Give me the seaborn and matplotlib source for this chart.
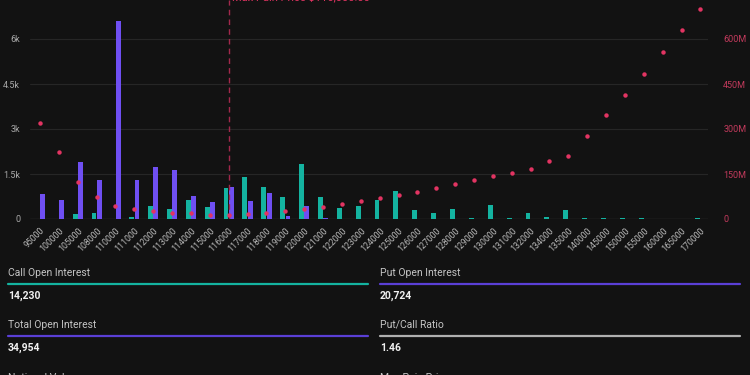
import matplotlib
matplotlib.use("Agg")
import matplotlib.pyplot as plt
from matplotlib.lines import Line2D
import seaborn as sns
import pandas as pd
import numpy as np

# strikes on the x axis
strikes = ["95000", "100000", "105000", "108000", "110000", "111000", "112000",
           "113000", "114000", "115000", "116000", "117000", "118000", "119000",
           "120000", "121000", "122000", "123000", "124000", "125000", "126000",
           "127000", "128000", "129000", "130000", "131000", "132000", "134000",
           "135000", "140000", "145000", "150000", "155000", "160000", "165000",
           "170000"]

# open interest per strike (contracts)
call_oi = [0, 0, 177, 210, 0, 77, 443, 343, 633, 387, 1033, 1387, 1077, 720,
           1833, 720, 367, 443, 633, 933, 287, 210, 320, 40, 467, 30, 187, 77,
           300, 50, 50, 40, 40, 0, 0, 30]
put_oi = [843, 620, 1900, 1287, 6587, 1287, 1720, 1643, 777, 567, 1077, 587,
          853, 100, 433, 43, 0, 0, 0, 0, 0, 0, 0, 0, 0, 0, 0, 0, 0, 0, 0, 0, 0,
          0, 0, 0]

# notional value per strike (millions USD)
notional_m = [320, 222, 125, 74, 44, 34, 28, 21, 19, 15, 15, 17, 21, 28, 32, 40,
              50, 59, 70, 80, 91, 103, 117, 129, 142, 154, 168, 195, 209, 278,
              348, 415, 485, 558, 629, 699]

max_pain_strike = "116000"
left_ticks = [0, 1500, 3000, 4500, 6000]
left_labels = ["0", "1.5k", "3k", "4.5k", "6k"]
right_ticks = [0, 150, 300, 450, 600]
right_labels = ["0", "150M", "300M", "450M", "600M"]

stats_left = [("Call Open Interest", "14,230"), ("Total Open Interest", "34,954")]
stats_right = [("Put Open Interest", "20,724"), ("Put/Call Ratio", "1.46")]

BG = "#121212"
TEAL = "#14b3a0"
PURPLE = "#6f4ff2"
DOT = "#e23462"

sns.set_theme(style="dark")
plt.rcParams["font.family"] = ["Roboto", "DejaVu Sans"]

W, H = 750, 375
fig = plt.figure(figsize=(7.5, 3.75), dpi=100, facecolor=BG)
ax = fig.add_axes([30 / W, (H - 219) / H, 678 / W, 219 / H])
ax.set_facecolor(BG)

df = pd.DataFrame({
    "strike": strikes * 2,
    "oi": call_oi + put_oi,
    "side": ["Call"] * len(strikes) + ["Put"] * len(strikes),
})
sns.barplot(data=df, x="strike", y="oi", hue="side", order=strikes,
            hue_order=["Call", "Put"], palette={"Call": TEAL, "Put": PURPLE},
            width=0.56, gap=0.08, saturation=1, linewidth=0, legend=False, ax=ax)

ax2 = ax.twinx()
dots = pd.DataFrame({"strike": strikes, "notional": notional_m})
sns.stripplot(data=dots, x="strike", y="notional", order=strikes, jitter=False,
              color=DOT, size=3.2, linewidth=0, ax=ax2)

for a in (ax, ax2):
    a.set_xlim(-0.53, len(strikes) - 0.6)
    for s in a.spines.values():
        s.set_visible(False)
    a.set_xlabel("")
    a.set_ylabel("")
    a.tick_params(length=0)

ax.set_ylim(0, 7300)
ax2.set_ylim(0, 730)
ax.set_yticks(left_ticks)
ax.set_yticklabels(left_labels, color="#a8a8a8", fontsize=6.5)
ax.tick_params(axis="y", pad=7)
ax2.set_yticks(right_ticks)
ax2.set_yticklabels(right_labels, color="#c23a5c", fontsize=6.5)
ax2.tick_params(axis="y", pad=11)
ax2.grid(False)

ax.grid(axis="y", color="#262626", lw=0.8)
ax.grid(axis="x", visible=False)
ax.axhline(0, color="#333333", lw=1, zorder=0.5)

ax.set_xticks(range(len(strikes)))
ax.set_xticklabels(strikes, rotation=45, ha="right", rotation_mode="anchor",
                   color="#b8b8b8", fontsize=6.3)
ax.tick_params(axis="x", pad=5)

mp = strikes.index(max_pain_strike)
ax.axvline(mp, color="#a3284c", lw=1, ls=(0, (4, 3)), zorder=3)
fig.text(232 / W, 1 - 2 / H, "Max Pain Price $116,000.00", color=DOT,
         fontsize=8, va="bottom", ha="left")

# summary panel below the chart
line_colors = {"Call Open Interest": TEAL, "Total Open Interest": "#5a3fd6",
               "Put Open Interest": "#5a3fd6", "Put/Call Ratio": "#b0b0b0"}
for x0, x1, items in [(8, 368, stats_left), (380, 740, stats_right)]:
    for i, (label, value) in enumerate(items):
        yl = 273 + i * 52
        fig.text(x0 / W, 1 - yl / H, label, color="#c4c4c4", fontsize=7.5,
                 va="center", ha="left")
        fig.add_artist(Line2D([x0 / W, x1 / W], [1 - (yl + 11) / H] * 2,
                              color=line_colors[label], lw=1.6))
        fig.text(x0 / W, 1 - (yl + 23) / H, value, color="#f0f0f0",
                 fontsize=7.5, fontweight="bold", va="center", ha="left")

fig.text(8 / W, 1 - 373 / H, "Notional Value", color="#c4c4c4", fontsize=7.5,
         va="top", ha="left")
fig.text(380 / W, 1 - 373 / H, "Max Pain Price", color="#c4c4c4", fontsize=7.5,
         va="top", ha="left")

fig.savefig("out.png", dpi=100, facecolor=BG)
